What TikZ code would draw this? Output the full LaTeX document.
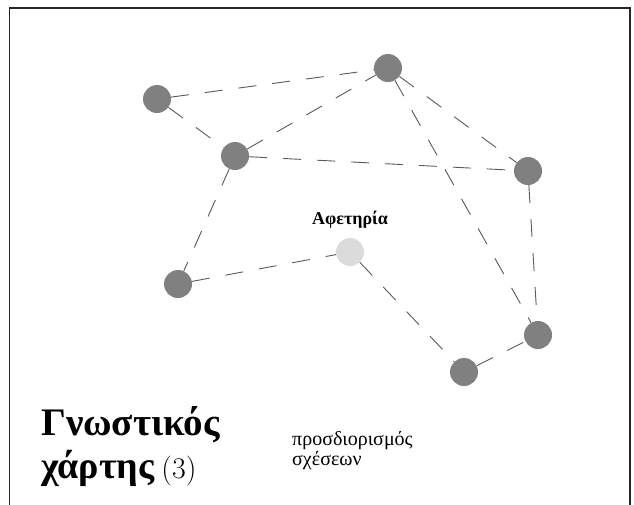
\documentclass[tikz,border=0pt]{standalone}
\usepackage{fontspec}
\newfontfamily\greekfont{Liberation Serif}
\usetikzlibrary{positioning}
\begin{document}
\begin{tikzpicture}[x=1pt, y=-1pt,
    place/.style={circle, fill=black!50, minimum size=28pt, inner sep=0pt},
    startplace/.style={place, fill=black!14},
    link/.style={draw=black!65, line width=0.9pt, dash pattern=on 18pt off 16pt}]
            \useasboundingbox (0,0) rectangle (634,504);
            \draw[line width=1.8pt, black!85] (9.5,8) rectangle (630,530);
            % the places of the map
            \node[place] (a) at (157,99) {};
            \node[place] (b) at (388,68) {};
            \node[place] (c) at (235,156) {};
            \node[place] (d) at (528,171) {};
            \node[startplace] (start) at (350,252) {};
            \node[place] (e) at (178,284) {};
            \node[place] (f) at (538,335) {};
            \node[place] (g) at (464,372) {};
            \node[above=6pt of start, font=\greekfont\fontsize{18}{20}\selectfont\bfseries] (startlabel) {Αφετηρία};
            % relations
            \draw[link] (a) -- (b);
            \draw[link] (a) -- (c);
            \draw[link] (c) -- (b);
            \draw[link] (c) -- (d);
            \draw[link] (b) -- (d);
            \draw[link] (b) -- (f);
            \draw[link] (d) -- (f);
            \draw[link] (c) -- (e);
            \draw[link] (e) -- (start);
            \draw[link] (start) -- (g);
            \draw[link] (g) -- (f);
            % title
            \node[anchor=base west, inner sep=0pt, font=\fontsize{39}{44}\selectfont] (title1) at (41,435) {\greekfont\bfseries Γνωστικός};
            \node[anchor=base west, inner sep=0pt, font=\fontsize{38}{44}\selectfont] (title2) at (41,478) {\greekfont\bfseries χάρτης\mdseries\normalfont\fontsize{30}{36}\selectfont\hspace{-2pt} (3)};
            \node[anchor=base west, inner sep=0pt, align=left, font=\greekfont\fontsize{20}{16}\selectfont] (note) at (292,465) {προσδιορισμός\\σχέσεων};
        \end{tikzpicture}
\end{document}
